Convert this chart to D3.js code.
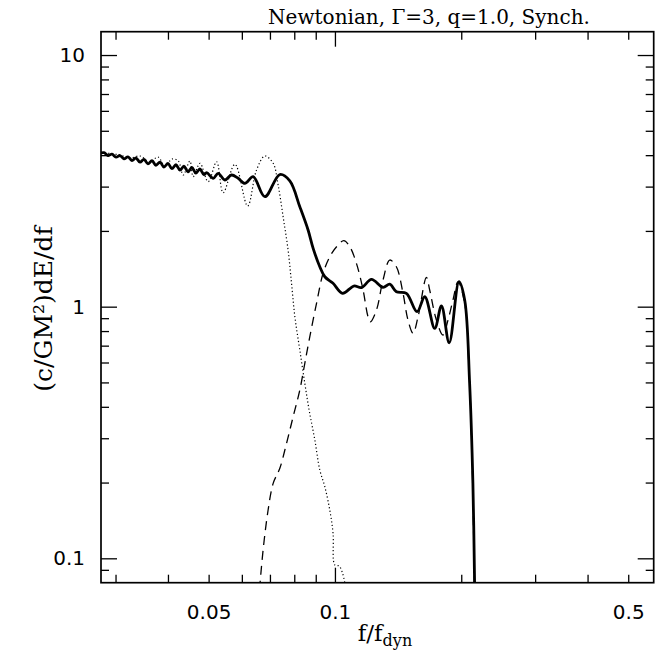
<!DOCTYPE html>
<html>
<head>
<meta charset="utf-8">
<script src="https://cdn.jsdelivr.net/npm/d3@7"></script>
<style>
  body { margin: 0; background: #fff; }
</style>
</head>
<body>
<svg id="chart" width="672" height="656"></svg>
<script>
// Solid curve (total)
var solidF = [0.0277, 0.02816, 0.02878, 0.02942, 0.03008, 0.03074, 0.03142, 0.03212, 0.03283, 0.03356, 0.03431,
    0.03507, 0.03584, 0.03664, 0.03745, 0.03828, 0.03913, 0.04000, 0.04088, 0.04179, 0.04272, 0.04366, 0.04463,
    0.04562, 0.04663, 0.04766, 0.04872, 0.04945, 0.05128, 0.05269, 0.05466, 0.0567, 0.0587, 0.061, 0.06385,
    0.06808, 0.0739, 0.07806, 0.08247, 0.0863, 0.08873, 0.09203, 0.0946, 0.09897, 0.1043, 0.1109, 0.1157,
    0.1222, 0.1302, 0.1351, 0.1401, 0.148, 0.1569, 0.1637, 0.1729, 0.1794, 0.1872, 0.1975, 0.2038, 0.2094,
    0.2132, 0.2153];
var solidV = [4.08, 4.091, 3.987, 4.035, 3.929, 3.987, 3.868, 3.940, 3.809, 3.897, 3.750,
    3.851, 3.693, 3.805, 3.646, 3.753, 3.589, 3.709, 3.537, 3.665, 3.486, 3.619, 3.435,
    3.573, 3.392, 3.524, 3.345, 3.407, 3.236, 3.388, 3.187, 3.336, 3.245, 3.091, 3.285,
    2.735, 3.35, 3.16, 2.495, 2.017, 1.705, 1.441, 1.315, 1.238, 1.13, 1.208, 1.191,
    1.284, 1.193, 1.23, 1.147, 1.13, 0.955, 1.095, 0.82, 1.008, 0.719, 1.256, 1.063, 0.496,
    0.1986, 0.075];

// Dashed curve
var dashF = [0.0661, 0.06742, 0.0693, 0.07125, 0.0739, 0.07667, 0.0795, 0.08247, 0.08476, 0.08712, 0.09039,
    0.0937, 0.0972, 0.1009, 0.105, 0.1085, 0.1125, 0.1167, 0.1199, 0.1215, 0.1256, 0.1302, 0.1351, 0.1401,
    0.1453, 0.1493, 0.1535, 0.1578, 0.1652, 0.1682, 0.1745, 0.1809, 0.186, 0.1911, 0.1965, 0.2038, 0.2086,
    0.2126, 0.2150];
var dashV = [0.075, 0.1079, 0.1556, 0.1986, 0.2279, 0.2864, 0.3653, 0.4665, 0.5955, 0.7598, 1.031,
    1.357, 1.579, 1.73, 1.829, 1.73, 1.487, 1.165, 0.912, 0.871, 0.970, 1.276, 1.532, 1.441,
    1.13, 0.885, 0.784, 0.912, 1.308, 1.165, 0.885, 0.7716, 0.885, 1.063, 1.256, 1.031, 0.577,
    0.2244, 0.075];

// Dotted curve
var dotF = [0.0277, 0.03076, 0.03247, 0.0343, 0.03624, 0.03787, 0.03934, 0.04089, 0.04233, 0.04349, 0.04512,
    0.04595, 0.04768, 0.04988, 0.05224, 0.05415, 0.05776, 0.06193, 0.06503, 0.06808, 0.07125, 0.07322,
    0.07525, 0.07733, 0.0788, 0.08026, 0.08247, 0.08476, 0.08679, 0.08955, 0.09203, 0.0946, 0.0972,
    0.09897, 0.09991, 0.1023, 0.1043, 0.1061];
var dotV = [4.10, 4.005, 3.897, 3.969, 3.757, 3.933, 3.622, 3.862, 3.792, 3.336, 3.792,
    3.285, 3.713, 3.138, 3.767, 2.836, 3.679, 2.512, 3.491, 3.969, 3.713, 3.044,
    2.277, 1.679, 1.238, 0.912, 0.6725, 0.496, 0.3884, 0.2952, 0.2244, 0.1925, 0.1556,
    0.1257, 0.0941, 0.0932, 0.0872, 0.076];

// Ticks
var xMinorTicks = [0.03, 0.04, 0.05, 0.06, 0.07, 0.08, 0.09, 0.2, 0.3, 0.4, 0.5];
var xMajorTicks = [0.1];
var xLabelTicks = [0.05, 0.1, 0.5];
var xLabels = ["0.05", "0.1", "0.5"];
var yMinorTicks = [0.09, 0.2, 0.3, 0.4, 0.5, 0.6, 0.7, 0.8, 0.9, 2, 3, 4, 5, 6, 7, 8, 9];
var yMajorTicks = [0.1, 1, 10];
var yLabels = ["0.1", "1", "10"];

var svg = d3.select("#chart");
var pLeft = 101, pRight = 653.7, pTop = 31.7, pBottom = 582.7;

var x = d3.scaleLog().domain([0.0277, 0.575]).range([pLeft, pRight]);
var y = d3.scaleLog().domain([0.08, 12.38]).range([pBottom, pTop]);

svg.append("defs").append("clipPath").attr("id", "plotclip")
    .append("rect")
        .attr("x", pLeft).attr("y", pTop)
        .attr("width", pRight - pLeft).attr("height", pBottom - pTop);

// Curves
var line = d3.line()
    .x(function(d) { return x(d[0]); })
    .y(function(d) { return y(d[1]); })
    .curve(d3.curveCatmullRom.alpha(0.5));

function pairs(fs, vs) {
    return fs.map(function(f, i) { return [f, vs[i]]; });
}

var curves = svg.append("g").attr("clip-path", "url(#plotclip)");
curves.append("path")
    .attr("d", line(pairs(dotF, dotV)))
    .attr("fill", "none").attr("stroke", "#000")
    .attr("stroke-width", 1.2).attr("stroke-dasharray", "1.2,2.4");
curves.append("path")
    .attr("d", line(pairs(dashF, dashV)))
    .attr("fill", "none").attr("stroke", "#000")
    .attr("stroke-width", 1.3).attr("stroke-dasharray", "9,6");
curves.append("path")
    .attr("d", line(pairs(solidF, solidV)))
    .attr("fill", "none").attr("stroke", "#000")
    .attr("stroke-width", 2.8).attr("stroke-linejoin", "round");

// Tick marks on all four sides, pointing inward
function ticks(axis, pos, vals, len) {
    var g = svg.append("g")
        .attr("transform", pos)
        .call(axis.tickValues(vals).tickSize(-len).tickFormat(""));
    g.select(".domain").remove();
    g.selectAll("line").attr("stroke", "#000").attr("stroke-width", 1.3);
}
ticks(d3.axisBottom(x), "translate(0," + pBottom + ")", xMinorTicks, 8);
ticks(d3.axisBottom(x), "translate(0," + pBottom + ")", xMajorTicks, 15);
ticks(d3.axisTop(x), "translate(0," + pTop + ")", xMinorTicks, 8);
ticks(d3.axisTop(x), "translate(0," + pTop + ")", xMajorTicks, 15);
ticks(d3.axisLeft(y), "translate(" + pLeft + ",0)", yMinorTicks, 8);
ticks(d3.axisLeft(y), "translate(" + pLeft + ",0)", yMajorTicks, 16);
ticks(d3.axisRight(y), "translate(" + pRight + ",0)", yMinorTicks, 8);
ticks(d3.axisRight(y), "translate(" + pRight + ",0)", yMajorTicks, 16);

// Tick labels
var xl = svg.append("g")
    .attr("transform", "translate(0," + pBottom + ")")
    .call(d3.axisBottom(x).tickValues(xLabelTicks).tickSize(0).tickPadding(22)
        .tickFormat(function(d, i) { return xLabels[i]; }));
xl.select(".domain").remove();
xl.selectAll("text").attr("font-family", "DejaVu Sans").attr("font-size", 20).attr("fill", "#000");

var yl = svg.append("g")
    .attr("transform", "translate(" + pLeft + ",0)")
    .call(d3.axisLeft(y).tickValues(yMajorTicks).tickSize(0).tickPadding(16)
        .tickFormat(function(d, i) { return yLabels[i]; }));
yl.select(".domain").remove();
yl.selectAll("text").attr("font-family", "DejaVu Sans").attr("font-size", 20).attr("fill", "#000");

// Frame
svg.append("rect")
    .attr("x", pLeft).attr("y", pTop)
    .attr("width", pRight - pLeft).attr("height", pBottom - pTop)
    .attr("fill", "none").attr("stroke", "#000").attr("stroke-width", 1.7);

// Title and axis titles
svg.append("text")
    .attr("x", 429).attr("y", 24)
    .attr("text-anchor", "middle")
    .attr("font-family", "DejaVu Serif").attr("font-size", 20)
    .text("Newtonian, \u0393=3, q=1.0, Synch.");

var xt = svg.append("text")
    .attr("x", 385).attr("y", 641)
    .attr("text-anchor", "middle")
    .attr("font-family", "DejaVu Serif").attr("font-size", 23);
xt.append("tspan").text("f/f");
xt.append("tspan").attr("dy", 5).attr("font-size", 16).text("dyn");

svg.append("text")
    .attr("transform", "translate(52,309) rotate(-90)")
    .attr("text-anchor", "middle")
    .attr("font-family", "DejaVu Serif").attr("font-size", 25)
    .text("(c/GM\u00b2)dE/df");
</script>
</body>
</html>
